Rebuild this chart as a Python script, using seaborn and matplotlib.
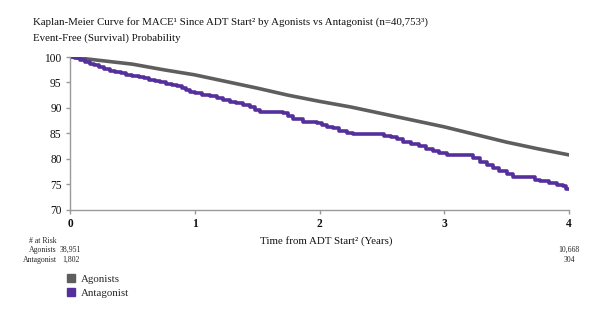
import matplotlib
matplotlib.use("Agg")
import matplotlib.pyplot as plt
import seaborn as sns
import pandas as pd
from matplotlib.lines import Line2D

# ---- data ----
agonist_t = [0, 0.25, 0.5, 0.75, 1.0, 1.25, 1.5, 1.75, 2.0, 2.25, 2.5, 2.75, 3.0, 3.25, 3.5, 3.75, 4.0]
agonist_v = [100, 99.3, 98.6, 97.5, 96.5, 95.2, 93.9, 92.5, 91.3, 90.2, 88.9, 87.6, 86.3, 84.8, 83.3, 82.0, 80.8]

antag_t = [0, 0.04, 0.08, 0.12, 0.16, 0.19, 0.23, 0.27, 0.32, 0.36, 0.41, 0.45, 0.5, 0.55, 0.59, 0.63,
           0.68, 0.72, 0.77, 0.82, 0.86, 0.9, 0.93, 0.96, 1.0, 1.06, 1.12, 1.18, 1.23, 1.28, 1.33, 1.39,
           1.44, 1.48, 1.52, 1.71, 1.75, 1.79, 1.87, 1.98, 2.02, 2.06, 2.11, 2.16, 2.22, 2.27, 2.46, 2.52,
           2.57, 2.62, 2.67, 2.73, 2.8, 2.85, 2.91, 2.96, 3.02, 3.18, 3.23, 3.29, 3.34, 3.39, 3.44, 3.5,
           3.55, 3.69, 3.73, 3.77, 3.84, 3.9, 3.95, 3.98, 4.0]
antag_v = [100, 99.8, 99.4, 99.1, 98.7, 98.4, 98.0, 97.7, 97.3, 97.1, 96.8, 96.5, 96.3, 96.0, 95.8, 95.5,
           95.2, 95.0, 94.7, 94.5, 94.3, 94.0, 93.6, 93.2, 92.9, 92.6, 92.3, 91.9, 91.5, 91.1, 90.9, 90.6,
           90.2, 89.7, 89.3, 89.0, 88.4, 87.8, 87.3, 87.1, 86.7, 86.3, 86.0, 85.4, 85.1, 84.9, 84.8, 84.6,
           84.4, 83.9, 83.4, 82.9, 82.5, 82.0, 81.6, 81.2, 80.8, 80.8, 80.1, 79.5, 78.8, 78.2, 77.6, 77.0,
           76.5, 76.4, 75.9, 75.6, 75.2, 74.9, 74.6, 74.1, 74.1]

series_names = ["Agonists", "Antagonist"]
at_risk_start = ["38,951", "1,802"]
at_risk_end = ["10,668", "304"]
x_ticks = [0, 1, 2, 3, 4]
y_ticks = [70, 75, 80, 85, 90, 95, 100]

colors = {"Agonists": "#5e5e5e", "Antagonist": "#55309c"}

sns.set_style("white")
plt.rcParams["font.family"] = ["Liberation Serif", "DejaVu Serif"]

fig = plt.figure(figsize=(6, 3.23), dpi=100)
ax = fig.add_axes([0.1167, 0.35, 0.8316, 0.4735])

df_a = pd.DataFrame({"t": agonist_t, "v": agonist_v})
df_b = pd.DataFrame({"t": antag_t, "v": antag_v})
sns.lineplot(data=df_a, x="t", y="v", ax=ax, color=colors["Agonists"], lw=2.6, estimator=None)
sns.lineplot(data=df_b, x="t", y="v", ax=ax, color=colors["Antagonist"], lw=2.6, estimator=None,
             drawstyle="steps-post")

ax.set_xlim(0, 4)
ax.set_ylim(70, 100)
ax.set_xticks(x_ticks)
ax.set_yticks(y_ticks)
ax.set_xticklabels([str(t) for t in x_ticks], fontsize=8.3, fontweight="bold")
ax.set_yticklabels([str(t) for t in y_ticks], fontsize=8.3)
ax.set_xlabel("")
ax.set_ylabel("")
for s in ["top", "right"]:
    ax.spines[s].set_visible(False)
for s in ["left", "bottom"]:
    ax.spines[s].set_color("#9a9a9a")
    ax.spines[s].set_linewidth(1.0)
ax.tick_params(axis="both", which="both", direction="out", length=3, width=1, color="#9a9a9a",
               left=True, bottom=True, pad=3, labelcolor="#111111")

# titles
fig.text(33 / 600, 1 - 22 / 323, "Kaplan-Meier Curve for MACE\u00b9 Since ADT Start\u00b2 by Agonists vs Antagonist (n=40,753\u00b3)",
         fontsize=7.8, va="center", ha="left", color="#111111")
fig.text(33 / 600, 1 - 38 / 323, "Event-Free (Survival) Probability",
         fontsize=7.8, va="center", ha="left", color="#111111")

# x label
fig.text(326 / 600, 1 - 241 / 323, "Time from ADT Start\u00b2 (Years)", fontsize=7.8,
         ha="center", va="center", color="#111111")

# at risk table
fs = 5.6
fig.text(57 / 600, 1 - 241 / 323, "# at Risk", fontsize=fs, ha="right", va="center")
fig.text(57 / 600, 1 - 250 / 323, series_names[0], fontsize=fs, ha="right", va="center")
fig.text(57 / 600, 1 - 260 / 323, series_names[1], fontsize=fs, ha="right", va="center")
fig.text(60 / 600, 1 - 250 / 323, at_risk_start[0], fontsize=fs, ha="left", va="center")
fig.text(62 / 600, 1 - 260 / 323, at_risk_start[1], fontsize=fs, ha="left", va="center")
fig.text(569 / 600, 1 - 250 / 323, at_risk_end[0], fontsize=fs, ha="center", va="center")
fig.text(569 / 600, 1 - 260 / 323, at_risk_end[1], fontsize=fs, ha="center", va="center")

# legend
handles = [Line2D([0], [0], marker="s", linestyle="none", markersize=6,
                  markerfacecolor=colors[n], markeredgecolor=colors[n]) for n in series_names]
fig.legend(handles, series_names, loc="upper left", bbox_to_anchor=(66 / 600, 1 - 274 / 323),
           frameon=False, fontsize=7.8, handletextpad=0.4, labelspacing=0.45, handlelength=1.0,
           borderaxespad=0, borderpad=0)

fig.savefig("out.png", dpi=100)
